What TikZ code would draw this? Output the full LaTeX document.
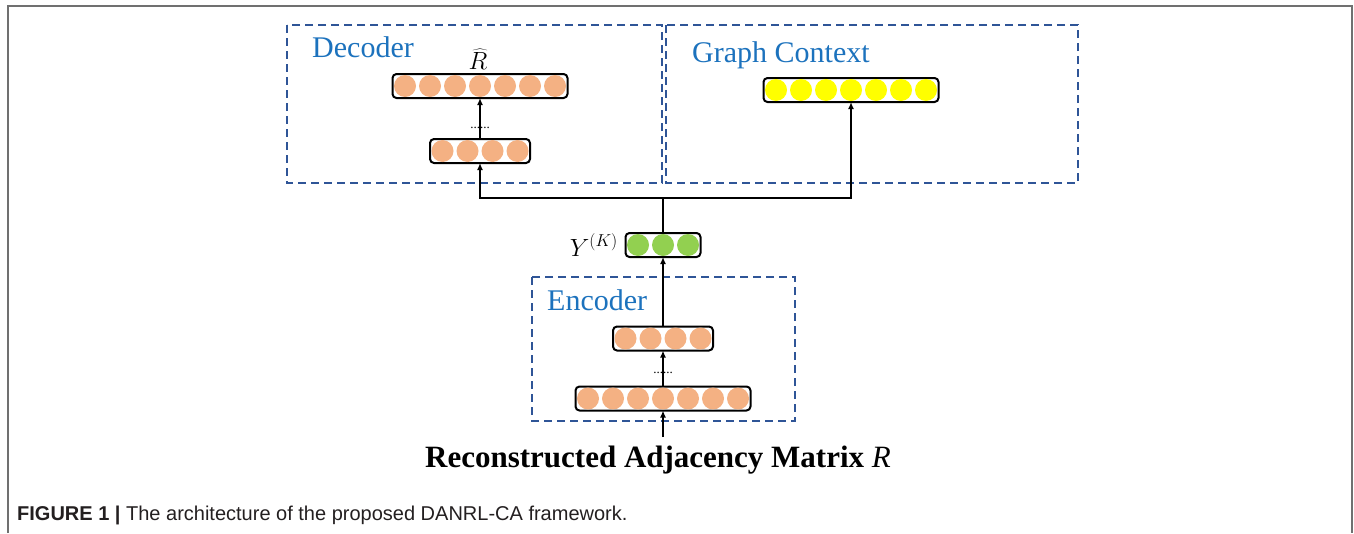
\documentclass[tikz,border=0pt]{standalone}
\usepackage{fontspec}
\setmainfont{Liberation Serif}
\setsansfont{Liberation Sans}
\usepackage{tikz}
\usetikzlibrary{arrows.meta,calc}
\definecolor{frameblue}{HTML}{2F5597}
\definecolor{labelblue}{HTML}{1C72BD}
\definecolor{peach}{HTML}{F4B183}
\definecolor{leaf}{HTML}{92D050}
\definecolor{lemon}{HTML}{FFFF00}
\definecolor{rim}{HTML}{707070}
\definecolor{captext}{HTML}{231F20}
% a row of n filled units inside a named vector node
\newcommand{\cells}[3]{%
  \foreach \k in {1,...,#2}
    \fill[#3] ($(#1.west)!{(\k-0.5)/#2}!(#1.east)$) circle (11pt);}

\begin{document}
\begin{tikzpicture}[
  x=1pt,y=1pt,
  vec/.style={rounded corners=4pt,draw=black,line width=2pt,minimum height=24pt,inner sep=0pt,outer sep=0pt},
  dashbox/.style={draw=frameblue,line width=2pt,dash pattern=on 8pt off 5pt},
  lbl/.style={text=labelblue,font=\fontsize{30}{36}\selectfont,inner sep=0pt},
  dots/.style={font=\fontsize{13}{15}\selectfont,inner sep=0pt,anchor=base},
  arr/.style={-{Latex[length=7pt,width=6pt]},line width=1.5pt,draw=black},
  lin/.style={line width=1.5pt,draw=black}
]
\useasboundingbox (0,0) rectangle (1354,-533);
\draw[rim,line width=2pt] (8,-533) -- (8,-6) -- (1352,-6) -- (1352,-533);
% dashed module frames
\draw[dashbox] (287,-25) rectangle (662,-183);
\draw[dashbox] (666,-25) rectangle (1078,-183);
\draw[dashbox] (532,-277) rectangle (795,-421);
\node[lbl,anchor=base west] (dectxt) at (312,-57) {Decoder};
\node[lbl,anchor=base west] (ctxtxt) at (692,-62) {Graph Context};
\node[lbl,anchor=base west] (enctxt) at (547,-310) {Encoder};
% vectors
\node[vec,minimum width=175pt] (dtop) at (480,-86) {};
\node[vec,minimum width=100pt] (dlow) at (480,-151) {};
\node[vec,minimum width=175pt] (gctx) at (851,-90) {};
\node[vec,minimum width=75pt] (ynode) at (663,-245) {};
\node[vec,minimum width=100pt] (emid) at (663,-338.5) {};
\node[vec,minimum width=175pt] (ebot) at (663,-398.5) {};
\cells{dtop}{7}{peach}
\cells{dlow}{4}{peach}
\cells{gctx}{7}{lemon}
\cells{ynode}{3}{leaf}
\cells{emid}{4}{peach}
\cells{ebot}{7}{peach}
% math labels
\node[inner sep=0pt,anchor=base,font=\fontsize{24}{28}\selectfont] (rhat) at (478,-69) {$\widehat{R}$};
\node[inner sep=0pt,anchor=base east,font=\fontsize{26}{30}\selectfont] (ylbl) at (618,-256) {$Y^{(K)}$};
\node[dots] (ddots) at (480,-128) {......};
\node[dots] (edots) at (663,-373) {......};
% connectors
\coordinate (input) at (663,-437);
\coordinate (junc) at (663,-198);
\draw[arr] (input) -- (ebot.south);
\draw[arr] (ebot.north) -- (emid.south);
\draw[arr] (emid.north) -- (ynode.south);
\draw[lin] (ynode.north) -- (junc);
\draw[arr] (junc) -| (dlow.south);
\draw[arr] (junc) -| (gctx.south);
\draw[arr] (dlow.north) -- (dtop.south);
% titles
\node[inner sep=0pt,anchor=base,font=\fontsize{31}{36}\selectfont\bfseries] (title) at (658,-467) {Reconstructed Adjacency Matrix {\mdseries\itshape R}};
\node[inner sep=0pt,anchor=base west,text=captext,font=\sffamily\fontsize{20}{24}\selectfont] (caption) at (17,-520) {\textbf{FIGURE 1 |} The architecture of the proposed DANRL-CA framework.};
\end{tikzpicture}
\end{document}
